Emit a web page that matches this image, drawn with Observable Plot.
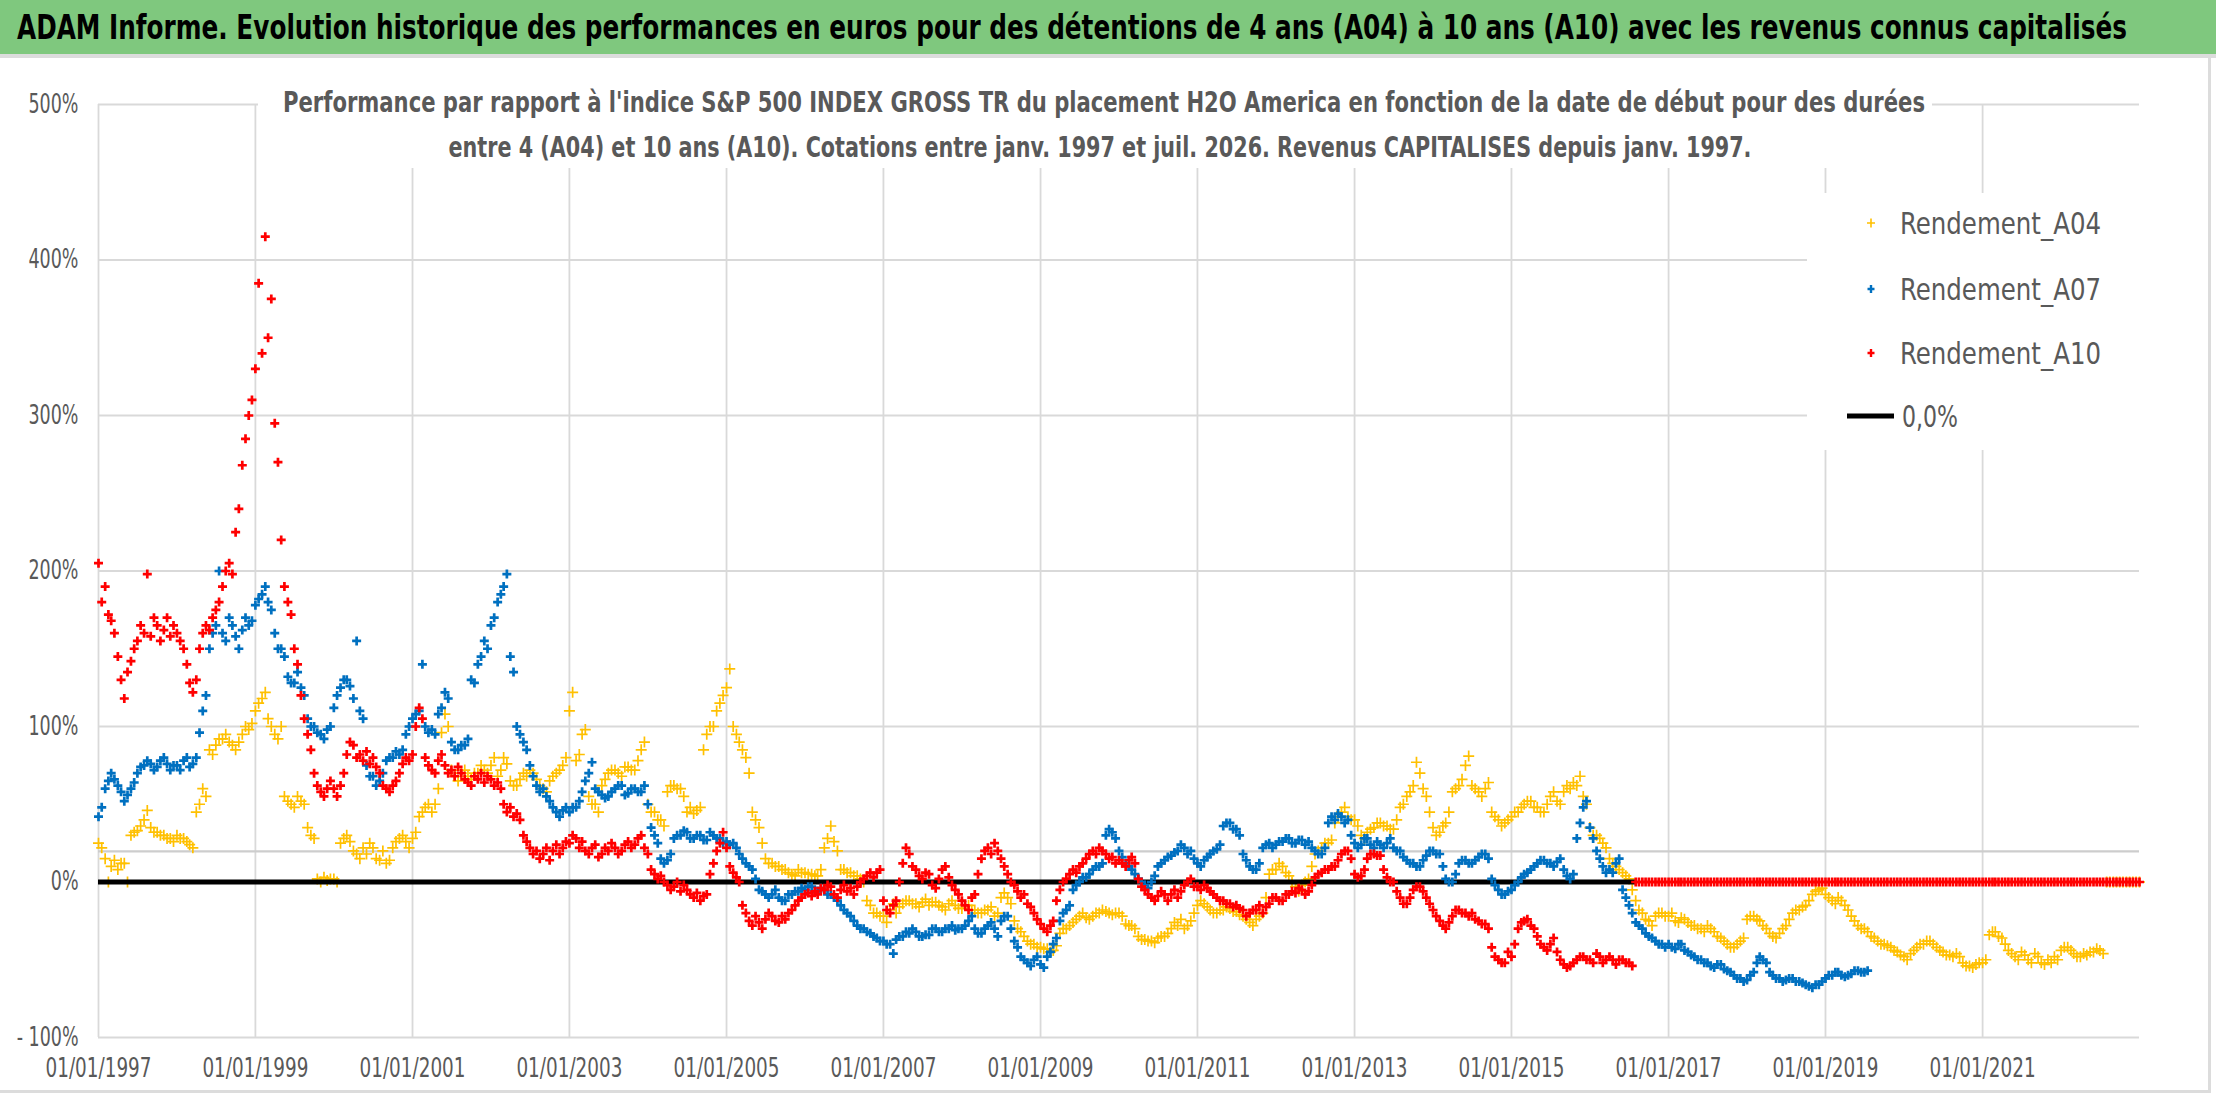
<!DOCTYPE html>
<html>
<head>
<meta charset="utf-8">
<script src="https://cdn.jsdelivr.net/npm/d3@7"></script>
<script src="https://cdn.jsdelivr.net/npm/@observablehq/plot@0.6"></script>
<style>
  body { margin: 0; background: #fff; }
  #wrap { position: relative; width: 2216px; height: 1102px; background: #fff; overflow: hidden; }
  .fitc { position: absolute; white-space: nowrap; }
</style>
</head>
<body>
<div id="wrap"></div>
<script>
// ---------------- DATA (values in %, semi-monthly: 1st and 16th of each month from Jan 1997) ----------------
const titleText = "ADAM Informe. Evolution historique des performances en euros pour des détentions de 4 ans (A04) à 10 ans (A10) avec les revenus connus capitalisés";
const subtitleLines = [
  "Performance par rapport à l'indice S&P 500 INDEX GROSS TR  du placement H2O America en fonction de la date de début pour des durées",
  "entre 4 (A04) et 10 ans (A10). Cotations entre janv. 1997 et juil. 2026. Revenus CAPITALISES depuis janv. 1997."
];
const seriesNames = ["Rendement_A04", "Rendement_A07", "Rendement_A10"];
const zeroName = "0,0%";
const xTickYears = [1997, 1999, 2001, 2003, 2005, 2007, 2009, 2011, 2013, 2015, 2017, 2019, 2021];
const yTickValues = [-1, 0, 1, 2, 3, 4, 5];
const refLineValue = 0.197;
const zeroLineEndDate = "2016-08-01";

const a04 = [
  25,22, 15,0, 10,14, 8,12, 12,0, 30,32, 33,36, 40,46, 35,32, 32,30, 30,28, 28,26,
  30,28, 28,26, 24,22, 45,50, 60,55, 85,82, 88,92, 92,95, 90,88, 85,90, 95,100, 98,102,
  110,115, 118,122, 105,100, 95,92, 100,55, 52,50, 48,55, 52,50, 35,30, 28,2, 0,3, 1,2,
  2,0, 25,28, 30,26, 20,18, 15,22, 18,25, 22,15, 14,20, 12,14, 22,26, 28,30, 26,22,
  28,32, 42,45, 48,50, 45,50, 60,96, 108,100, 72,68, 65,70, 72,68, 66,70, 70,75, 72,70,
  75,80, 68,72, 80,76, 65,62, 62,66, 70,68, 72,70, 66,62, 60,58, 65,68, 70,72, 75,80,
  110,122, 78,82, 95,98, 55,50, 50,45, 62,66, 70,72, 72,70, 68,74, 74,72, 72,78, 85,90,
  50,45, 45,40, 40,36, 58,62, 62,60, 60,55, 45,48, 44,46, 48,85, 95,100, 100,110, 115,120,
  125,137, 100,95, 90,85, 80,70, 45,40, 35,25, 15,12, 12,10, 10,8, 8,6, 5,4, 8,6,
  6,5, 5,4, 4,8, 22,28, 36,26, 20,8, 8,6, 6,4, 4,2, 0,-12, -15,-20, -20,-22,
  -22,-26, -18,-14, -20,-16, -14,-12, -12,-14, -14,-16, -13,-11, -15,-13, -13,-15, -16,-18, -14,-12, -15,-17,
  -17,-15, -15,-18, -18,-20, -20,-18, -18,-16, -22,-20, -10,-7, -10,-14, -25,-30, -32,-35, -38,-40, -40,-42,
  -42,-43, -43,-45, -44,-41, -33,-30, -30,-28, -26,-24, -22,-20, -23,-24, -22,-20, -20,-18, -19,-20, -21,-20,
  -20,-22, -27,-28, -28,-30, -35,-37, -37,-38, -38,-39, -36,-35, -35,-33, -30,-26, -28,-24, -30,-28, -25,-20,
  -15,-12, -14,-16, -18,-20, -20,-18, -18,-16, -17,-19, -19,-21, -22,-24, -26,-28, -24,-22, -20,-10, 5,8,
  8,12, 10,6, 4,0, -3,-6, -2,0, 2,10, 18,20, 22,25, 25,27, 38,42, 45,48, 42,40,
  40,36, 30,28, 32,34, 35,38, 38,36, 36,34, 34,40, 48,50, 55,58, 62,77, 70,60, 55,45,
  35,30, 32,36, 38,45, 58,60, 62,66, 75,81, 62,60, 58,55, 60,64, 45,42, 40,36, 38,40,
  42,45, 45,48, 50,52, 52,48, 48,45, 45,50, 55,58, 52,50, 58,62, 60,64, 62,68, 55,50,
  35,30, 30,28, 25,22, 15,12, 10,8, 6,4, 2,-5, -12,-18, -20,-24, -25,-28, -22,-20, -20,-22,
  -22,-20, -25,-26, -23,-24, -26,-28, -28,-30, -30,-32, -28,-30, -32,-35, -36,-38, -40,-42, -42,-40, -38,-36,
  -24,-22, -22,-24, -25,-28, -30,-33, -35,-36, -33,-30, -28,-24, -20,-18, -18,-16, -15,-12, -8,-6, -5,-4,
  -8,-10, -12,-14, -10,-12, -15,-18, -22,-25, -28,-30, -30,-32, -35,-36, -38,-40, -40,-41, -42,-44, -45,-47,
  -48,-50, -46,-44, -42,-40, -40,-38, -38,-40, -42,-44, -45,-47, -47,-48, -46,-48, -52,-54, -54,-55, -53,-52,
  -52,-50, -34,-32, -32,-35, -36,-40, -44,-46, -48,-50, -45,-47, -50,-52, -46,-48, -52,-53, -50,-52, -48,-50,
  -44,-42, -42,-44, -46,-48, -48,-46, -47,-45, -45,-43, -44,-46, 0,0, 0,0, 0,0, 0,0, 0,0,
  0
];

const a07 = [
  42,48, 60,65, 70,66, 62,58, 52,56, 60,64, 70,74, 75,78, 76,72, 74,78, 80,76, 72,75,
  75,72, 78,80, 74,76, 80,96, 110,120, 150,160, 165,200, 160,155, 170,165, 158,150, 162,170, 165,168,
  178,182, 185,190, 180,175, 160,150, 150,145, 132,128, 128,135, 125,120, 105,100, 100,96, 95,92, 98,100,
  112,120, 125,130, 130,126, 118,155, 110,105, 75,68, 68,62, 65,70, 78,80, 80,84, 82,85, 95,100,
  105,108, 110,140, 100,96, 98,95, 108,112, 122,118, 90,85, 85,88, 88,92, 130,128, 140,145, 155,150,
  165,170, 180,185, 190,198, 145,135, 100,95, 90,85, 75,68, 62,58, 60,55, 52,48, 45,42, 46,48,
  45,48, 48,52, 58,65, 70,77, 60,58, 56,54, 55,58, 60,62, 62,56, 57,60, 60,58, 58,62,
  50,35, 30,25, 15,12, 14,18, 28,30, 30,33, 32,28, 28,30, 30,27, 27,32, 30,28, 28,25,
  26,24, 25,22, 18,15, 12,10, 8,2, -5,-6, -8,-10, -8,-5, -10,-12, -12,-8, -8,-6, -6,-4,
  -5,-3, -3,-6, -6,-4, -5,-8, -8,-10, -12,-15, -18,-20, -22,-25, -28,-30, -30,-32, -33,-35, -36,-38,
  -38,-40, -40,-46, -37,-35, -35,-32, -33,-30, -32,-35, -35,-34, -34,-30, -30,-32, -32,-30, -30,-28, -31,-30,
  -30,-28, -25,-22, -30,-33, -33,-30, -28,-26, -30,-35, -25,-22, -22,-30, -38,-42, -48,-50, -52,-54, -50,-48,
  -53,-55, -48,-45, -40,-36, -25,-20, -18,-15, -5,-2, 0,3, 3,5, 8,10, 10,12, 30,34, 32,28,
  20,16, 12,10, 8,5, 2,0, -2,-4, 0,4, 10,12, 14,16, 17,19, 20,24, 22,18, 20,15,
  12,10, 14,16, 18,20, 21,24, 36,38, 38,34, 34,30, 18,14, 10,8, 8,12, 22,24, 25,22,
  24,26, 26,28, 28,25, 25,27, 27,24, 26,22, 20,18, 18,22, 38,42, 40,44, 42,38, 40,30,
  25,22, 24,28, 28,24, 22,26, 24,22, 25,28, 22,20, 20,16, 14,12, 12,10, 10,14, 17,20,
  20,18, 18,10, 2,0, 0,5, 12,14, 14,12, 12,14, 16,18, 18,15, 2,-2, -5,-8, -8,-6,
  -5,-2, 0,3, 5,6, 8,10, 12,14, 14,12, 12,10, 13,15, 8,4, 2,5, 28,38, 48,52,
  35,28, 20,15, 10,6, 8,6, 12,15, -5,-10, -15,-20, -26,-28, -30,-33, -35,-36, -38,-40, -40,-42,
  -40,-42, -43,-40, -40,-44, -45,-47, -48,-50, -50,-52, -52,-54, -55,-53, -53,-56, -57,-58, -60,-62, -62,-64,
  -63,-60, -58,-52, -48,-50, -52,-58, -60,-62, -62,-64, -63,-62, -62,-64, -64,-65, -66,-67, -68,-66, -66,-64,
  -62,-60, -60,-58, -58,-60, -61,-60, -59,-57, -57,-58, -58,-57
];

const a10 = [
  205,180, 190,172, 168,160, 145,130, 118,135, 142,150, 155,165, 160,198, 158,170, 165,155, 162,170, 158,165,
  160,155, 150,140, 128,122, 130,150, 160,165, 162,170, 175,180, 190,200, 205,198, 225,240, 268,285, 300,310,
  330,385, 340,415, 350,375, 295,270, 220,190, 180,172, 150,140, 120,105, 95,85, 70,62, 58,55, 60,65,
  60,55, 62,70, 82,90, 88,80, 82,78, 84,76, 80,74, 70,62, 60,58, 62,65, 70,76, 80,78,
  82,100, 112,105, 80,75, 72,70, 78,82, 75,70, 72,68, 74,70, 66,64, 62,68, 66,70, 64,68,
  66,62, 64,60, 50,45, 48,42, 44,40, 30,26, 22,18, 20,15, 18,22, 14,20, 24,18, 22,26,
  25,30, 28,22, 26,20, 18,22, 24,16, 18,22, 20,25, 22,18, 20,24, 26,22, 24,28, 30,22,
  18,8, 5,2, 4,0, -2,-5, -3,0, -6,-2, -5,-8, -10,-7, -12,-9, -8,5, 12,20, 25,32,
  22,10, 6,3, 0,-15, -20,-25, -28,-22, -26,-30, -24,-20, -22,-25, -26,-22, -24,-20, -18,-15, -12,-10,
  -8,-7, -9,-6, -8,-4, -5,-2, -3,-8, -10,-5, -2,-6, -4,-8, -3,0, 2,4, 6,3, 6,8,
  -12,-18, -20,-15, -12,0, 12,22, 18,10, 8,4, 2,6, 5,-2, -4,2, 8,10, 3,-2, -5,-8,
  -12,-15, -18,-10, -8,5, 15,20, 22,18, 25,20, 15,10, 5,0, -2,-6, -10,-8, -14,-16, -20,-24,
  -27,-30, -32,-28, -25,-12, -5,0, 2,5, 8,6, 10,12, 15,18, 20,18, 22,20, 18,15, 16,12,
  14,12, 10,14, 16,12, 2,-3, -5,-8, -10,-12, -9,-6, -8,-12, -8,-5, -10,-6, -2,0, 2,-3,
  -3,-5, -2,-4, -6,-8, -10,-12, -12,-14, -14,-16, -15,-17, -18,-22, -20,-18, -18,-15, -20,-16, -14,-10,
  -10,-12, -12,-8, -8,-6, -7,-4, -5,-8, -6,-2, 3,5, 6,8, 8,10, 10,14, 18,20, 20,15,
  5,3, 4,8, 15,18, 18,17, 17,8, 3,0, 0,-6, -10,-14, -14,-10, -5,-3, -3,-6, -10,-14,
  -18,-22, -25,-28, -30,-26, -22,-18, -18,-20, -20,-22, -20,-24, -25,-27, -27,-30, -42,-48, -50,-52, -52,-45,
  -48,-40, -30,-26, -25,-24, -28,-30, -35,-40, -42,-44, -40,-36, -45,-50, -53,-55, -54,-52, -50,-48, -48,-50,
  -50,-52, -46,-48, -52,-50, -48,-50, -53,-50, -50,-52, -52,-54, 0,0, 0,0, 0,0, 0,0, 0,0,
  0,0, 0,0, 0,0, 0,0, 0,0, 0,0, 0,0, 0,0, 0,0, 0,0, 0,0, 0,0,
  0,0, 0,0, 0,0, 0,0, 0,0, 0,0, 0,0, 0,0, 0,0, 0,0, 0,0, 0,0,
  0,0, 0,0, 0,0, 0,0, 0,0, 0,0, 0,0, 0,0, 0,0, 0,0, 0,0, 0,0,
  0,0, 0,0, 0,0, 0,0, 0,0, 0,0, 0,0, 0,0, 0,0, 0,0, 0,0, 0,0,
  0,0, 0,0, 0,0, 0,0, 0,0, 0,0, 0,0, 0,0, 0,0, 0,0, 0,0, 0,0,
  0,0, 0,0, 0,0, 0,0, 0,0, 0,0, 0,0, 0,0, 0,0, 0,0, 0,0, 0,0,
  0
];

// ---------------- STYLE ----------------
const FONT = '"Liberation Sans Narrow","Arial Narrow","DejaVu Sans Condensed","Roboto Condensed","Liberation Sans",sans-serif';
const colors = { a04: "#FFC000", a07: "#0070C0", a10: "#FF0000", zero: "#000000", grid: "#D9D9D9", text: "#595959" };

const toRows = vals => vals.map((v, i) => ({
  date: new Date(Date.UTC(1997, Math.floor(i / 2), i % 2 ? 16 : 1)),
  v: v / 100
}));
const rows04 = toRows(a04), rows07 = toRows(a07), rows10 = toRows(a10);
const xTicks = xTickYears.map(y => new Date(Date.UTC(y, 0, 1)));
const xDomain = [new Date(Date.UTC(1997, 0, 1)), new Date(Date.UTC(2023, 0, 1))];
const zeroSeg = [{ y: 0, x1: new Date(Date.UTC(1997, 0, 1)), x2: new Date(zeroLineEndDate + "T00:00:00Z") }];

const plusShape = (w, h) => ({
  draw(ctx) { ctx.moveTo(-w, 0); ctx.lineTo(w, 0); ctx.moveTo(0, -h); ctx.lineTo(0, h); }
});
const plus04 = plusShape(5.5, 5.5), plus07 = plusShape(4.5, 4.5), plus10 = plusShape(4.5, 4.5);

const wrap = document.getElementById("wrap");

// Title bar
const tbar = document.createElement("div");
tbar.style.cssText = "position:absolute;left:0;top:0;width:2216px;height:54px;background:#7FC87E;";
wrap.appendChild(tbar);
const tline = document.createElement("div");
tline.style.cssText = "position:absolute;left:0;top:54px;width:2216px;height:4px;background:#DCDCDC;";
wrap.appendChild(tline);
const tspan = document.createElement("div");
tspan.className = "fitc";
tspan.textContent = titleText;
tspan.style.cssText += `left:17px;top:27px;font-family:${FONT};font-weight:bold;font-size:34px;color:#000;transform-origin:0 50%;`;
wrap.appendChild(tspan);

// Chart
const chart = Plot.plot({
  width: 2216, height: 1044,
  marginTop: 46, marginBottom: 65, marginLeft: 98, marginRight: 77,
  x: { type: "utc", domain: xDomain },
  y: { domain: [-1, 5] },
  style: { fontFamily: FONT, fontSize: "26px", color: colors.text, background: "transparent", overflow: "visible" },
  marks: [
    Plot.ruleX(xTicks, { stroke: colors.grid, strokeWidth: 1.8 }),
    Plot.ruleY(yTickValues, { stroke: colors.grid, strokeWidth: 2 }),
    Plot.ruleY([refLineValue], { stroke: "#CDCDCD", strokeWidth: 2.2 }),
    Plot.dot(rows04, { x: "date", y: "v", symbol: plus04, stroke: colors.a04, fill: "none", strokeWidth: 1.7 }),
    Plot.ruleY(zeroSeg, { y: "y", x1: "x1", x2: "x2", stroke: colors.zero, strokeWidth: 5 }),
    Plot.dot(rows07, { x: "date", y: "v", symbol: plus07, stroke: colors.a07, fill: "none", strokeWidth: 2.7 }),
    Plot.dot(rows10, { x: "date", y: "v", symbol: plus10, stroke: colors.a10, fill: "none", strokeWidth: 2.7 }),
    Plot.axisX({ ticks: xTicks, tickFormat: d => "01/01/" + d.getUTCFullYear(), tickSize: 0, tickPadding: 21, label: null }),
    Plot.axisY({ ticks: yTickValues, tickFormat: d => d < 0 ? "- " + Math.round(-d * 100) + "%" : Math.round(d * 100) + "%", tickSize: 0, tickPadding: 20, label: null })
  ]
});
const holder = document.createElement("div");
holder.style.cssText = "position:absolute;left:0;top:58px;";
holder.appendChild(chart);
wrap.appendChild(holder);

// Subtitle box
const subBox = document.createElement("div");
subBox.style.cssText = "position:absolute;left:258px;top:70px;width:1674px;height:98px;background:#fff;";
wrap.appendChild(subBox);
const subCenters = [[1104, 102, 1642], [1100, 147, 1303]];
const subEls = subtitleLines.map((t, i) => {
  const d = document.createElement("div");
  d.className = "fitc";
  d.textContent = t;
  d.style.cssText += `left:${subCenters[i][0]}px;top:${subCenters[i][1]}px;font-family:${FONT};font-weight:bold;font-size:28px;color:${colors.text};`;
  wrap.appendChild(d);
  return d;
});

// Legend
const leg = document.createElement("div");
leg.style.cssText = "position:absolute;left:1807px;top:193px;width:333px;height:257px;background:#fff;";
wrap.appendChild(leg);
const legendItems = [
  { name: seriesNames[0], color: colors.a04, shape: "plus", w: 4, h: 4.5, sw: 1.6, y: 223 },
  { name: seriesNames[1], color: colors.a07, shape: "plus", w: 3.5, h: 4, sw: 2.4, y: 289 },
  { name: seriesNames[2], color: colors.a10, shape: "plus", w: 3.5, h: 4, sw: 2.4, y: 353 },
  { name: zeroName, color: colors.zero, shape: "line", y: 416 }
];
const legTexts = [];
legendItems.forEach(it => {
  const s = document.createElementNS("http://www.w3.org/2000/svg", "svg");
  s.setAttribute("width", 60); s.setAttribute("height", 20);
  s.style.cssText = `position:absolute;left:1841px;top:${it.y - 10}px;`;
  if (it.shape === "plus") {
    const p = document.createElementNS("http://www.w3.org/2000/svg", "path");
    const cx = 30;
    p.setAttribute("d", `M${cx - it.w},10H${cx + it.w}M${cx},${10 - it.h}V${10 + it.h}`);
    p.setAttribute("stroke", it.color); p.setAttribute("stroke-width", it.sw); p.setAttribute("fill", "none");
    s.appendChild(p);
  } else {
    const l = document.createElementNS("http://www.w3.org/2000/svg", "line");
    l.setAttribute("x1", 6); l.setAttribute("x2", 53); l.setAttribute("y1", 10); l.setAttribute("y2", 10);
    l.setAttribute("stroke", it.color); l.setAttribute("stroke-width", 5);
    s.appendChild(l);
  }
  wrap.appendChild(s);
  const t = document.createElement("div");
  t.className = "fitc";
  t.textContent = it.name;
  t.style.cssText += `left:${it.shape === "line" ? 1902 : 1900}px;top:${it.y}px;font-family:${FONT};font-size:31px;color:${colors.text};transform-origin:0 50%;`;
  wrap.appendChild(t);
  legTexts.push([t, it.shape === "line" ? 56 : 201]);
});

// Outer light borders
const bb = document.createElement("div");
bb.style.cssText = "position:absolute;left:0;top:1090px;width:2210px;height:3px;background:#DCDCDC;";
wrap.appendChild(bb);
const rb = document.createElement("div");
rb.style.cssText = "position:absolute;left:2208px;top:58px;width:3px;height:1035px;background:#DCDCDC;";
wrap.appendChild(rb);

// ---- fit text widths ----
function fitLeft(el, target) {
  const w = el.getBoundingClientRect().width;
  el.style.transform = `translateY(-50%) scaleX(${target / w})`;
}
function fitCenter(el, target) {
  const w = el.getBoundingClientRect().width;
  el.style.transform = `translate(-50%,-50%) scaleX(${target / w})`;
}
fitLeft(tspan, 2110);
subEls.forEach((el, i) => fitCenter(el, subCenters[i][2]));
legTexts.forEach(([el, w]) => fitLeft(el, w));

// axis label widths
function fitAxis(label, refIndex, target) {
  const texts = chart.querySelectorAll(`g[aria-label="${label}"] text`);
  if (!texts.length) return;
  const ref = texts[refIndex].getComputedTextLength();
  const k = target / ref;
  texts.forEach(t => {
    const len = t.getComputedTextLength();
    t.setAttribute("textLength", len * k);
    t.setAttribute("lengthAdjust", "spacingAndGlyphs");
  });
}
fitAxis("x-axis tick label", 0, 106);
fitAxis("y-axis tick label", 6, 50);
</script>
</body>
</html>
